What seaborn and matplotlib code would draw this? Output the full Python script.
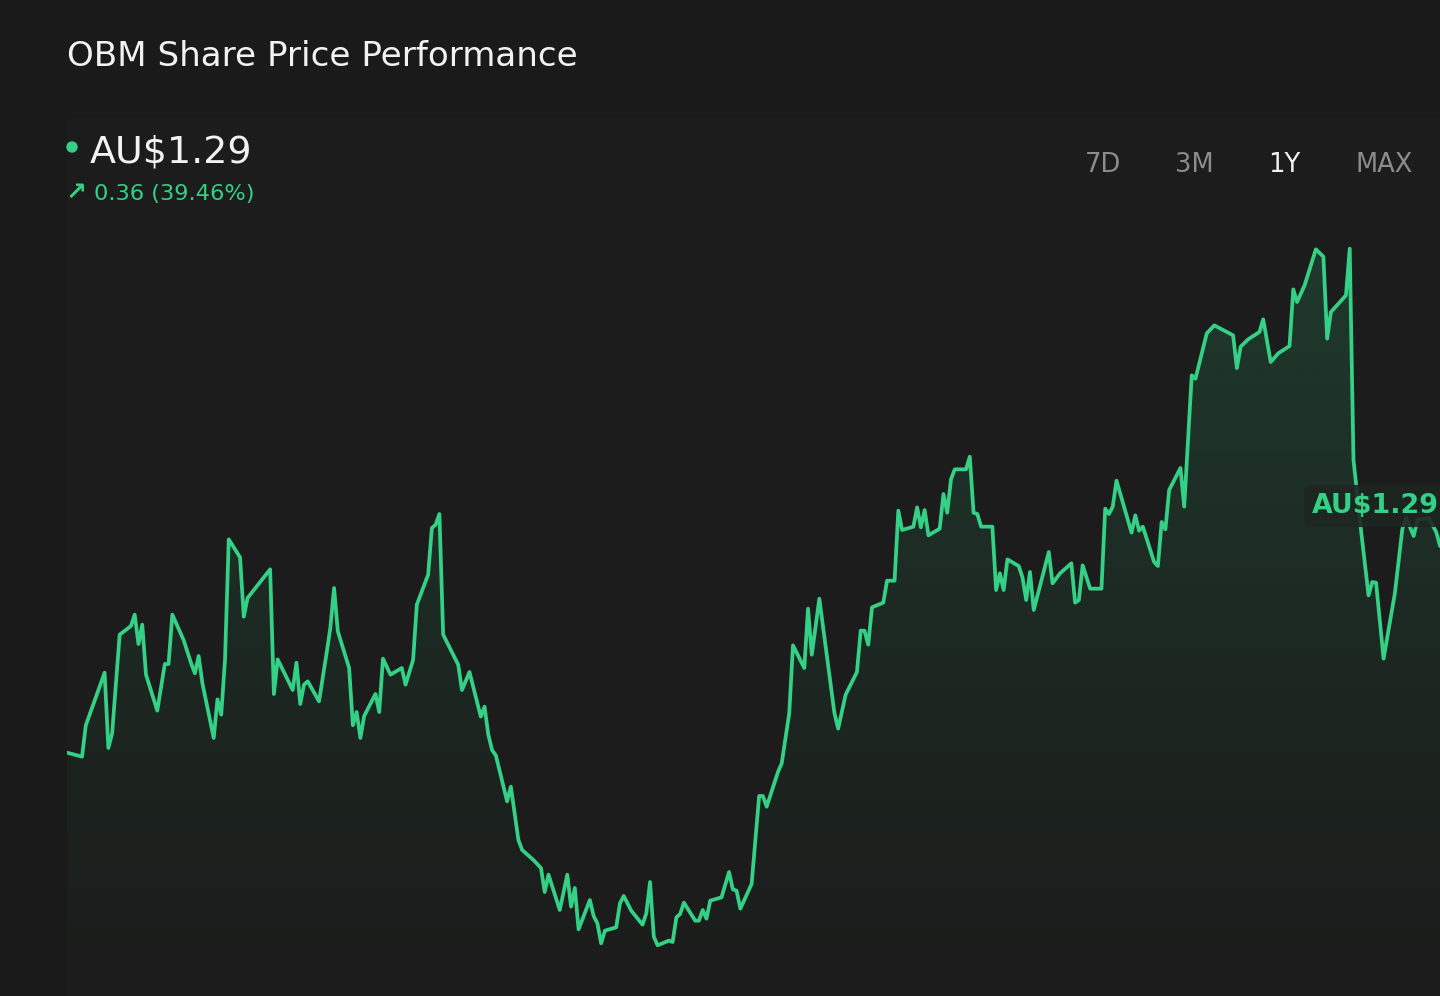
import numpy as np
import matplotlib
matplotlib.use("Agg")
import matplotlib.pyplot as plt
import matplotlib.transforms as mtransforms
import seaborn as sns

# ----------------------------
# Data
# ----------------------------
ticker = "OBM"
last_price = 1.29
change_abs = 0.36
change_pct = 39.46
ranges = ["7D", "3M", "1Y", "MAX"]
active_range = "1Y"

# calendar-day offset within the 1Y window
days = [
    0, 4, 5, 10, 11, 12, 14, 17, 18, 19,
    20, 21, 24, 26, 27, 28, 31, 33, 34, 35,
    36, 39, 40, 41, 42, 43, 46, 47, 48, 54,
    55, 56, 60, 61, 62, 63, 64, 67, 69, 70,
    71, 72, 75, 76, 77, 78, 79, 82, 83, 84,
    86, 89, 90, 92, 93, 96, 97, 98, 99, 100,
    104, 105, 107, 110, 111, 112, 113, 114, 117, 118,
    120, 121, 124, 126, 127, 128, 131, 133, 134, 135,
    136, 139, 140, 141, 142, 143, 146, 147, 148, 150,
    153, 154, 155, 156, 157, 160, 161, 162, 163, 164,
    167, 168, 169, 170, 171, 174, 176, 177, 178, 179,
    182, 184, 185, 186, 189, 190, 191, 192, 193, 196,
    197, 198, 200, 204, 205, 207, 210, 211, 212, 213,
    214, 217, 218, 220, 221, 222, 225, 226, 227, 228,
    229, 232, 233, 234, 235, 236, 239, 240, 241, 242,
    243, 246, 247, 248, 249, 250, 253, 254, 255, 256,
    257, 261, 262, 264, 267, 268, 269, 270, 272, 275,
    276, 277, 278, 279, 283, 284, 285, 286, 289, 290,
    291, 292, 293, 296, 297, 299, 300, 303, 305, 310,
    311, 312, 314, 317, 318, 320, 322, 325, 326, 327,
    329, 332, 334, 335, 336, 340, 341, 342, 344, 346,
    347, 348, 350, 353, 355, 356, 358, 359, 362, 364,
    365, 366,
]

# share price, AU$
prices = [
    0.920, 0.914, 0.961, 1.040, 0.927, 0.949, 1.097, 1.110, 1.127, 1.083,
    1.112, 1.037, 0.983, 1.053, 1.053, 1.127, 1.089, 1.054, 1.039, 1.065,
    1.024, 0.942, 1.000, 0.977, 1.059, 1.240, 1.213, 1.124, 1.152, 1.195,
    1.008, 1.060, 1.014, 1.055, 0.993, 1.022, 1.027, 0.997, 1.069, 1.107,
    1.167, 1.102, 1.047, 0.961, 0.981, 0.942, 0.975, 1.008, 0.981, 1.061,
    1.037, 1.047, 1.022, 1.059, 1.142, 1.187, 1.257, 1.262, 1.278, 1.097,
    1.052, 1.014, 1.041, 0.974, 0.989, 0.947, 0.924, 0.916, 0.847, 0.869,
    0.789, 0.774, 0.759, 0.747, 0.711, 0.737, 0.684, 0.737, 0.689, 0.717,
    0.655, 0.699, 0.675, 0.664, 0.634, 0.653, 0.658, 0.694, 0.705, 0.683,
    0.662, 0.679, 0.726, 0.644, 0.631, 0.638, 0.636, 0.673, 0.678, 0.695,
    0.668, 0.668, 0.684, 0.671, 0.698, 0.703, 0.741, 0.715, 0.713, 0.686,
    0.723, 0.855, 0.855, 0.839, 0.891, 0.904, 0.942, 0.979, 1.081, 1.047,
    1.136, 1.067, 1.151, 0.980, 0.956, 1.007, 1.041, 1.103, 1.103, 1.082,
    1.138, 1.145, 1.178, 1.178, 1.283, 1.254, 1.259, 1.288, 1.258, 1.284,
    1.246, 1.256, 1.308, 1.280, 1.330, 1.345, 1.345, 1.364, 1.280, 1.278,
    1.259, 1.259, 1.164, 1.189, 1.164, 1.210, 1.200, 1.183, 1.149, 1.191,
    1.134, 1.221, 1.174, 1.189, 1.204, 1.145, 1.149, 1.201, 1.166, 1.166,
    1.286, 1.278, 1.289, 1.328, 1.250, 1.276, 1.253, 1.259, 1.206, 1.200,
    1.266, 1.255, 1.314, 1.347, 1.289, 1.486, 1.481, 1.549, 1.561, 1.546,
    1.497, 1.529, 1.540, 1.551, 1.570, 1.506, 1.519, 1.530, 1.615, 1.596,
    1.621, 1.675, 1.664, 1.541, 1.581, 1.606, 1.676, 1.359, 1.254, 1.156,
    1.176, 1.175, 1.061, 1.159, 1.256, 1.272, 1.245, 1.269, 1.272, 1.251,
    1.230, 1.234,
]

# ----------------------------
# Style
# ----------------------------
BG = "#1a1a1a"
GREEN = "#34d085"
WHITE = "#f2f2f2"
GREY = "#8c8c8c"

sns.set_theme(style="dark", rc={
    "figure.facecolor": BG,
    "axes.facecolor": "#1b1c1b",
    "savefig.facecolor": BG,
})
plt.rcParams["font.family"] = ["DejaVu Sans"]

W, H = 1440, 996
fig = plt.figure(figsize=(W / 100, H / 100), dpi=100)
ax = fig.add_axes([67 / W, 0, 1 - 67 / W, 1 - 118 / H])

y_lo, y_hi = 0.555, 1.872
x_lo, x_hi = 0, 365

sns.lineplot(x=days, y=prices, ax=ax, color=GREEN, linewidth=2.7, zorder=3)

# gradient area under the line
area = ax.fill_between(days, prices, y_lo, color="none", linewidth=0)
grad = np.zeros((256, 1, 4))
grad[:, 0, :3] = matplotlib.colors.to_rgb(GREEN)
grad[:, 0, 3] = np.linspace(0.0, 0.23, 256) ** 1.1
img = ax.imshow(grad, extent=[x_lo, days[-1], y_lo, y_hi], origin="lower",
                aspect="auto", zorder=2, interpolation="bilinear")
img.set_clip_path(area.get_paths()[0], transform=ax.transData)

ax.set_xlim(x_lo, x_hi)
ax.set_ylim(y_lo, y_hi)
ax.set_xticks([])
ax.set_yticks([])
ax.set_xlabel("")
ax.set_ylabel("")
for s in ax.spines.values():
    s.set_visible(False)

# last price tag on the right edge
trans = mtransforms.blended_transform_factory(ax.transAxes, ax.transData)
ax.text((1312 - 67) / (W - 67), last_price, f"AU${last_price:.2f}",
        transform=trans, color=GREEN, fontsize=19.4, fontweight="bold",
        ha="left", va="center", zorder=5, clip_on=False,
        bbox=dict(boxstyle="round,pad=0.3,rounding_size=0.3",
                  fc="#1d2621", ec="none", alpha=0.9))

# ----------------------------
# Header texts
# ----------------------------
fig.text(67 / W, 1 - 66 / H, f"{ticker} Share Price Performance",
         color=WHITE, fontsize=24.6, va="baseline", ha="left")

fig.patches.append(matplotlib.patches.Circle(
    (72, H - 147), 5, transform=mtransforms.IdentityTransform(),
    color=GREEN, zorder=5))
fig.text(90 / W, 1 - 162 / H, f"AU${last_price:.2f}",
         color=WHITE, fontsize=27.4, va="baseline", ha="left")
fig.text(66 / W, 1 - 200 / H, "\u2197", color=GREEN, fontsize=18,
         fontweight="bold", va="baseline", ha="left")
fig.text(94 / W, 1 - 200 / H, f"{change_abs:.2f} ({change_pct:.2f}%)",
         color=GREEN, fontsize=16.2, va="baseline", ha="left")

btn_x = [1085, 1175, 1268, 1355]
for label, bx in zip(ranges, btn_x):
    fig.text(bx / W, 1 - 172 / H, label, fontsize=18.5, va="baseline",
             ha="left", color=WHITE if label == active_range else GREY)

fig.savefig("out.png", dpi=100, facecolor=BG)
